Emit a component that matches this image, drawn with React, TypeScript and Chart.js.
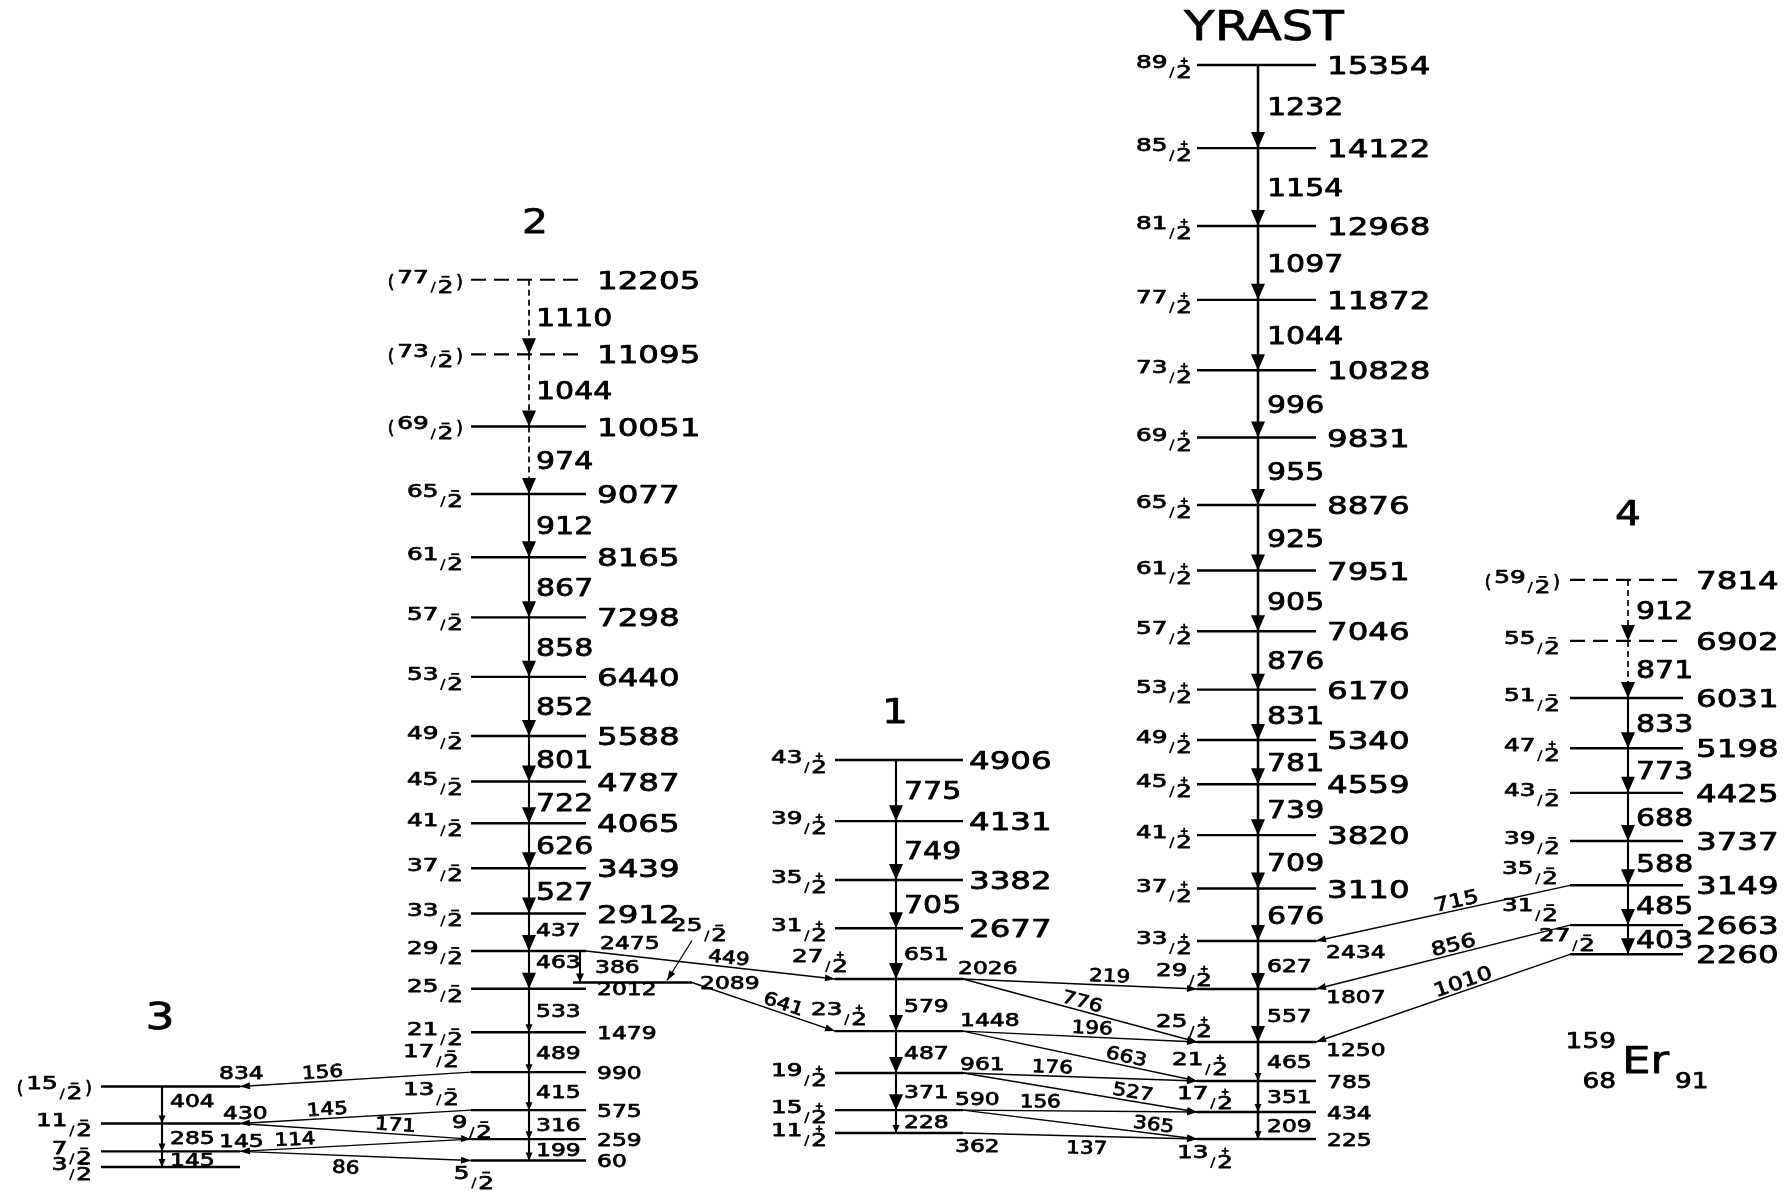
import React, { useEffect, useRef } from 'react';
import { Chart, registerables, LinearScale } from 'chart.js';

Chart.register(...registerables);

// ---------------- DATA (energies in keV, spins as 2J) ----------------
const YRAST_ENERGY = [225, 434, 785, 1250, 1807, 2434, 3110, 3820, 4559, 5340, 6170, 7046, 7951, 8876, 9831, 10828, 11872, 12968, 14122, 15354];
const YRAST_SPIN = [13, 17, 21, 25, 29, 33, 37, 41, 45, 49, 53, 57, 61, 65, 69, 73, 77, 81, 85, 89];
const YRAST_GAMMA = [209, 351, 465, 557, 627, 676, 709, 739, 781, 831, 876, 905, 925, 955, 996, 1044, 1097, 1154, 1232];

const BAND1_ENERGY = [362, 590, 961, 1448, 2026, 2677, 3382, 4131, 4906];
const BAND1_SPIN = [11, 15, 19, 23, 27, 31, 35, 39, 43];
const BAND1_GAMMA = [228, 371, 487, 579, 651, 705, 749, 775];

const BAND2_ENERGY = [60, 259, 575, 990, 1479, 2012, 2475, 2912, 3439, 4065, 4787, 5588, 6440, 7298, 8165, 9077, 10051, 11095, 12205];
const BAND2_SPIN = [5, 9, 13, 17, 21, 25, 29, 33, 37, 41, 45, 49, 53, 57, 61, 65, 69, 73, 77];
const BAND2_GAMMA = [199, 316, 415, 489, 533, 463, 437, 527, 626, 722, 801, 852, 858, 867, 912, 974, 1044, 1110];

const BAND3_ENERGY = [0, 145, 430, 834];
const BAND3_SPIN = [3, 7, 11, 15];
const BAND3_GAMMA = [145, 285, 404];

const BAND4_ENERGY = [2260, 2663, 3149, 3737, 4425, 5198, 6031, 6902, 7814];
const BAND4_SPIN = [27, 31, 35, 39, 43, 47, 51, 55, 59];
const BAND4_PARITY = ['-', '-', '-', '-', '-', '+', '-', '-', '-'];
const BAND4_GAMMA = [403, 485, 588, 688, 773, 833, 871, 912];

const SIDE_ENERGY = [2089];
const SIDE_SPIN = [25];

const TENTATIVE_SPIN: any = { '2': [69, 73, 77], '3': [15], '4': [59] };
const DASHED_LEVELS: any = { '2': [11095, 12205], '4': [6902, 7814] };
const DASHED_GAMMAS: any = { '2': [974, 1044, 1110], '4': [871, 912] };

// inter-band transitions: [from band, from level, to band, to level, gamma energy]
const LINKS: any[] = [
  ['2', 990, '3', 834, 156],
  ['2', 575, '3', 430, 145],
  ['3', 430, '2', 259, 171],
  ['2', 259, '3', 145, 114],
  ['3', 145, '2', 60, 86],
  ['2', 2475, '2b', 2089, 386],
  ['2', 2475, '1', 2026, 449],
  ['2b', 2089, '1', 1448, 641],
  ['1', 2026, 'Y', 1807, 219],
  ['1', 2026, 'Y', 1250, 776],
  ['1', 1448, 'Y', 1250, 196],
  ['1', 1448, 'Y', 785, 663],
  ['1', 961, 'Y', 785, 176],
  ['1', 961, 'Y', 434, 527],
  ['1', 590, 'Y', 434, 156],
  ['1', 590, 'Y', 225, 365],
  ['1', 362, 'Y', 225, 137],
  ['4', 3149, 'Y', 2434, 715],
  ['4', 2663, 'Y', 1807, 856],
  ['4', 2260, 'Y', 1250, 1010],
];

const NUCLEUS = { A: '159', Z: '68', N: '91', symbol: 'Er' };

// ---------------- LAYOUT / STYLE ----------------
const BAND_DATA: any = {
  Y: { energy: YRAST_ENERGY, spin: YRAST_SPIN, parity: YRAST_ENERGY.map(() => '+'), gamma: YRAST_GAMMA },
  '1': { energy: BAND1_ENERGY, spin: BAND1_SPIN, parity: BAND1_ENERGY.map(() => '+'), gamma: BAND1_GAMMA },
  '2': { energy: BAND2_ENERGY, spin: BAND2_SPIN, parity: BAND2_ENERGY.map(() => '-'), gamma: BAND2_GAMMA },
  '2b': { energy: SIDE_ENERGY, spin: SIDE_SPIN, parity: ['-'], gamma: [] },
  '3': { energy: BAND3_ENERGY, spin: BAND3_SPIN, parity: BAND3_ENERGY.map(() => '-'), gamma: BAND3_GAMMA },
  '4': { energy: BAND4_ENERGY, spin: BAND4_SPIN, parity: BAND4_PARITY, gamma: BAND4_GAMMA },
};

const BAND_LAYOUT: any = {
  Y: { axis: 'yA', x0: 1197, x1: 1316, ax: 1258, spinGap: 5, eGap: 11, gGap: 9, bigE: 3110, bigG: 3110, bigHead: 1807, title: 'YRAST', titleDx: 6, titleDy: -40, titleSize: 41, titleSx: 1.22 },
  '4': { axis: 'yA', x0: 1570, x1: 1683, ax: 1628, spinGap: 10, eGap: 13, gGap: 8, bigE: 0, bigG: 0, bigHead: 0, title: '4', titleDx: 0, titleDy: -67, titleSize: 34, titleSx: 1.2 },
  '2': { axis: 'yB', x0: 471, x1: 586, ax: 529, spinGap: 8, eGap: 11, gGap: 7, bigE: 2912, bigG: 3439, bigHead: 2475, title: '2', titleDx: 6, titleDy: -59, titleSize: 34, titleSx: 1.2 },
  '2b': { axis: 'yB', x0: 573, x1: 692, ax: 580, spinGap: 8, eGap: 8, gGap: 15, bigE: Infinity, bigG: Infinity, bigHead: Infinity },
  '3': { axis: 'yB', x0: 101, x1: 240, ax: 162, spinGap: 9, eGap: -20, gGap: 8, bigE: Infinity, bigG: Infinity, bigHead: Infinity, title: '3', titleDx: -2, titleDy: -71, titleSize: 38, titleSx: 1.2 },
  '1': { axis: 'yC', x0: 835, x1: 963, ax: 896, spinGap: 8, eGap: 6, gGap: 8, bigE: 2677, bigG: 3382, bigHead: 961, title: '1', titleDx: -1, titleDy: -49, titleSize: 34, titleSx: 1.2 },
};

// schematic (non-proportional) energy axes: [energy, shift] break table
const AXIS_RANGE = { min: -1400, max: 16318 };
const AXIS_WARP: any = {
  yA: [[0, -1000], [225, -794], [434, -603], [785, -495], [1250, -381], [1807, -152], [2434, -68], [2700, -60], [3400, 100], [4500, 140], [5300, 10], [6200, -80], [7900, -95], [9800, 0], [16000, 0]],
  yB: [[0, -985], [260, -830], [1000, -565], [2000, -357], [2475, -257], [3439, 5], [4100, 50], [5588, -182], [9000, -85], [11000, -30], [16000, -50]],
  yC: [[0, -1060], [362, -842], [961, -553], [1450, -417], [2026, -223], [2700, -118], [3400, -112], [4906, 143], [16000, 143]],
};

const ENERGY_LABEL_ADJ: any = {
  'Y:2434': [10, 10], 'Y:1807': [10, 7], 'Y:1250': [10, 7],
  '2:2475': [14, -9],
  '1:2026': [-5, -12], '1:1448': [-3, -12], '1:961': [-3, -10], '1:590': [-8, -12], '1:362': [-8, 12],
  '3:834': [-21, -14], '3:430': [-17, -11], '3:145': [-21, -11],
};
const SPIN_LABEL_ADJ: any = {
  'Y:1807': [15, -16], 'Y:1250': [15, -18], 'Y:785': [31, -19], 'Y:434': [36, -16], 'Y:225': [36, 16],
  '2:990': [-12, -18], '2:575': [-12, -18], '2:259': [21, -14], '2:60': [23, 15],
  '1:2026': [13, -20], '1:1448': [32, -19],
  '4:3149': [-12, -14], '4:2663': [-12, -17], '4:2260': [25, -16],
  '2b:2089': [154, -54],
};
const GAMMA_LABEL_ADJ: any = { '2:463': [0, -8], '2:437': [0, -3], '3:404': [0, -5] };
const LINK_LABEL_T = [0.64, 0.62, 0.67, 0.76, 0.46, 0.5, 0.57, 0.62, 0.625, 0.5, 0.55, 0.69, 0.38, 0.72, 0.33, 0.81, 0.53, 0.44, 0.45, 0.41];
const LINK_LABEL_SIDE = [1, 1, 1, 1, -1, 1, 1, 1, 1, 1, 1, 1, 1, 1, 1, 1, -1, 1, 1, 1];
const POINTER_ADJ = { band: '2b', energy: 2089, from: [119, -42], to: [94, -2] };

const FONT = '"DejaVu Sans"';
const TEXT_STROKE = 0.75;

// ---------------- custom schematic scale ----------------
function warpValue(id: string, v: number) {
  const a = AXIS_WARP[id];
  if (!a) return v;
  if (v <= a[0][0]) return v + a[0][1];
  for (let i = 1; i < a.length; i++) {
    if (v <= a[i][0]) {
      const e0 = a[i - 1][0], o0 = a[i - 1][1], e1 = a[i][0], o1 = a[i][1];
      return v + o0 + ((o1 - o0) * (v - e0)) / (e1 - e0);
    }
  }
  return v + a[a.length - 1][1];
}

class WarpScale extends (LinearScale as any) {
  static id = 'warp';
  getPixelForValue(value: any, index?: number) {
    if (value === null || value === undefined || !Number.isFinite(value)) return NaN;
    return super.getPixelForValue(warpValue((this as any).id, value), index);
  }
}
Chart.register(WarpScale as any);

// ---------------- drawing helpers ----------------
function paintText(ctx: any, s: string, x: number, y: number) {
  ctx.fillText(s, x, y);
  ctx.lineWidth = TEXT_STROKE;
  ctx.lineJoin = 'round';
  ctx.strokeText(s, x, y);
}
function textC(ctx: any, s: string, x: number, yc: number, size: number, sx: number, align: string, rot = 0) {
  ctx.save();
  ctx.translate(x, yc);
  if (rot) ctx.rotate(rot);
  ctx.scale(sx, 1);
  ctx.font = `${size}px ${FONT}`;
  ctx.textAlign = align;
  ctx.textBaseline = 'alphabetic';
  paintText(ctx, s, 0, (size * 0.729) / 2);
  ctx.restore();
}
function textB(ctx: any, s: string, x: number, yb: number, size: number, sx: number, align: string) {
  ctx.save();
  ctx.translate(x, yb);
  ctx.scale(sx, 1);
  ctx.font = `${size}px ${FONT}`;
  ctx.textAlign = align;
  ctx.textBaseline = 'alphabetic';
  paintText(ctx, s, 0, 0);
  ctx.restore();
}
function head(ctx: any, tx: number, ty: number, dx: number, dy: number, len: number, half: number) {
  const l = Math.hypot(dx, dy) || 1;
  const ux = dx / l, uy = dy / l;
  const bx = tx - ux * len, by = ty - uy * len;
  ctx.beginPath();
  ctx.moveTo(tx, ty);
  ctx.lineTo(bx - uy * half, by + ux * half);
  ctx.lineTo(bx + uy * half, by - ux * half);
  ctx.closePath();
  ctx.fill();
}
function drawSpin(ctx: any, num: number, parity: string, tentative: boolean, xr: number, y: number) {
  const S = 17, SX = 1.45;
  ctx.save();
  ctx.font = `${S}px ${FONT}`;
  const wN = ctx.measureText(String(num)).width * SX;
  const w2 = ctx.measureText('2').width * SX;
  const wP = ctx.measureText('(').width;
  const wS = 5, g = 2;
  const total = wN + g + wS + g + w2 + (tentative ? 2 * (wP + 3) : 0);
  let x = xr - total;
  if (tentative) { textB(ctx, '(', x, y + 8, S, 1, 'left'); x += wP + 3; }
  textB(ctx, String(num), x, y + 3, S, SX, 'left');
  x += wN + g;
  ctx.lineWidth = 1.7;
  ctx.beginPath(); ctx.moveTo(x + 0.5, y + 13); ctx.lineTo(x + wS - 0.5, y + 2); ctx.stroke();
  x += wS + g;
  textB(ctx, '2', x, y + 13, S, SX, 'left');
  const cx = x + w2 / 2;
  ctx.lineWidth = 1.8;
  ctx.beginPath();
  if (parity === '+') {
    ctx.moveTo(cx - 3.5, y - 4); ctx.lineTo(cx + 3.5, y - 4);
    ctx.moveTo(cx, y - 7.5); ctx.lineTo(cx, y - 0.5);
  } else {
    ctx.moveTo(cx - 4, y - 3); ctx.lineTo(cx + 4, y - 3);
  }
  ctx.stroke();
  x += w2;
  if (tentative) textB(ctx, ')', x + 3, y + 8, S, 1, 'left');
  ctx.restore();
}

function levelSegments(b: string, dashed: boolean) {
  const L = BAND_LAYOUT[b], D = BAND_DATA[b];
  const dl = DASHED_LEVELS[b] || [];
  const out: any[] = [];
  D.energy.forEach((e: number) => {
    if (dl.includes(e) === dashed) out.push({ x: L.x0, y: e }, { x: L.x1, y: e }, { x: L.x1, y: null });
  });
  return out;
}
function shaftSegments(b: string, dashed: boolean) {
  const L = BAND_LAYOUT[b], D = BAND_DATA[b];
  const dg = DASHED_GAMMAS[b] || [];
  const out: any[] = [];
  for (let i = 1; i < D.energy.length; i++) {
    const g = D.gamma[i - 1];
    if (dg.includes(g) === dashed) out.push({ x: L.ax, y: D.energy[i] }, { x: L.ax, y: D.energy[i - 1] }, { x: L.ax, y: null });
  }
  return out;
}

const bgPlugin = {
  id: 'bg',
  beforeDraw(chart: any) {
    const { ctx, width, height } = chart;
    ctx.save(); ctx.fillStyle = '#fff'; ctx.fillRect(0, 0, width, height); ctx.restore();
  },
};

const schemePlugin = {
  id: 'scheme',
  afterDatasetsDraw(chart: any) {
    const ctx = chart.ctx;
    const X = (v: number) => chart.scales.x.getPixelForValue(v);
    const Y = (b: string, e: number) => chart.scales[BAND_LAYOUT[b].axis].getPixelForValue(e);
    ctx.save();
    ctx.fillStyle = '#000';
    ctx.strokeStyle = '#000';

    Object.keys(BAND_LAYOUT).forEach((b) => {
      const L = BAND_LAYOUT[b], D = BAND_DATA[b];
      const E = D.energy;
      const x0 = X(L.x0), x1 = X(L.x1), ax = X(L.ax);
      for (let i = 1; i < E.length; i++) {
        const yT = Y(b, E[i - 1]);
        const yU = Y(b, E[i]);
        const bigH = E[i] >= L.bigHead;
        head(ctx, ax, yT, 0, 1, bigH ? 16 : 8, bigH ? 7 : 3.5);
        const g = D.gamma[i - 1];
        const adj = GAMMA_LABEL_ADJ[`${b}:${g}`] || [0, 0];
        const bigG = E[i] >= L.bigG;
        textC(ctx, String(g), ax + L.gGap + adj[0], (yU + yT) / 2 + adj[1], bigG ? 24 : 18, bigG ? 1.25 : 1.3, 'left');
      }
      E.forEach((e: number, i: number) => {
        const y = Y(b, e);
        const key = `${b}:${e}`;
        if (e > 0) {
          const adj = ENERGY_LABEL_ADJ[key] || [L.eGap, 0];
          const big = e >= L.bigE;
          textC(ctx, String(e), x1 + adj[0], y + adj[1], big ? 25 : 18, 1.3, 'left');
        }
        const sadj = SPIN_LABEL_ADJ[key] || [-L.spinGap, 0];
        const tent = (TENTATIVE_SPIN[b] || []).includes(D.spin[i]);
        drawSpin(ctx, D.spin[i], D.parity[i], tent, x0 + sadj[0], y + sadj[1]);
      });
      if (L.title) {
        textC(ctx, L.title, ax + L.titleDx, Y(b, E[E.length - 1]) + L.titleDy, L.titleSize, L.titleSx, 'center');
      }
    });

    LINKS.forEach((lk: any, k: number) => {
      const [fb, fe, tb, te, g] = lk;
      const A = BAND_LAYOUT[fb], B = BAND_LAYOUT[tb];
      const ya = Y(fb, fe), yb = Y(tb, te);
      const vertical = B.x0 < A.x1 && B.x1 > A.x0;
      let xa, xb;
      if (vertical) { xa = xb = X(B.ax); }
      else if (B.x0 + B.x1 < A.x0 + A.x1) { xa = X(A.x0); xb = X(B.x1); }
      else { xa = X(A.x1); xb = X(B.x0); }
      ctx.lineWidth = vertical ? 2 : 1.4;
      ctx.beginPath(); ctx.moveTo(xa, ya); ctx.lineTo(xb, yb); ctx.stroke();
      head(ctx, xb, yb, xb - xa, yb - ya, vertical ? 9 : 10, vertical ? 4 : 3.5);
      if (vertical) {
        textC(ctx, String(g), xb + 15, (ya + yb) / 2, 18, 1.3, 'left');
      } else {
        const t = LINK_LABEL_T[k];
        const side = LINK_LABEL_SIDE[k];
        const px = xa + t * (xb - xa), py = ya + t * (yb - ya);
        const lx = xb > xa ? xb - xa : xa - xb;
        const ly = xb > xa ? yb - ya : ya - yb;
        const ang = Math.atan2(ly, lx);
        const off = side > 0 ? 10 : -11;
        const cx = px + Math.sin(ang) * off;
        const cy = py - Math.cos(ang) * off;
        const big = fb === '4';
        textC(ctx, String(g), cx, cy, big ? 19 : 18, big ? 1.25 : 1.2, 'center', ang);
      }
    });

    // pointer from the 25/2- label to its short level
    {
      const L = BAND_LAYOUT[POINTER_ADJ.band];
      const y = Y(POINTER_ADJ.band, POINTER_ADJ.energy);
      const fx = X(L.x0) + POINTER_ADJ.from[0], fy = y + POINTER_ADJ.from[1];
      const tx = X(L.x0) + POINTER_ADJ.to[0], ty = y + POINTER_ADJ.to[1];
      ctx.lineWidth = 1.3;
      ctx.beginPath(); ctx.moveTo(fx, fy); ctx.lineTo(tx, ty); ctx.stroke();
      head(ctx, tx, ty, tx - fx, ty - fy, 10, 3.5);
    }

    // nucleus label
    textB(ctx, NUCLEUS.symbol, 1622, 1073, 38, 1.19, 'left');
    textB(ctx, NUCLEUS.A, 1616, 1048, 22, 1.2, 'right');
    textB(ctx, NUCLEUS.Z, 1616, 1088, 22, 1.2, 'right');
    textB(ctx, NUCLEUS.N, 1675, 1088, 22, 1.2, 'left');

    ctx.restore();
  },
};

export default function App() {
  const ref = useRef<HTMLCanvasElement | null>(null);
  useEffect(() => {
    document.body.style.margin = '0';
    document.body.style.overflow = 'hidden';
    const canvas = ref.current;
    if (!canvas) return;
    const datasets: any[] = [];
    Object.keys(BAND_LAYOUT).forEach((b) => {
      const L = BAND_LAYOUT[b];
      const common = {
        yAxisID: L.axis, xAxisID: 'x', borderColor: '#000', backgroundColor: '#000',
        pointRadius: 0, pointHoverRadius: 0, fill: false, tension: 0, spanGaps: false, borderCapStyle: 'butt',
      };
      datasets.push({ ...common, label: `band ${b} levels`, data: levelSegments(b, false), borderWidth: 2.4 });
      const dl = levelSegments(b, true);
      if (dl.length) datasets.push({ ...common, label: `band ${b} tentative levels`, data: dl, borderWidth: 2.2, borderDash: [15, 8] });
      const sh = shaftSegments(b, false);
      if (sh.length) datasets.push({ ...common, label: `band ${b} transitions`, data: sh, borderWidth: b === 'Y' ? 2.5 : 2.1 });
      const dsh = shaftSegments(b, true);
      if (dsh.length) datasets.push({ ...common, label: `band ${b} tentative transitions`, data: dsh, borderWidth: 1.7, borderDash: [6, 4] });
    });
    const yScale = () => ({ type: 'warp', axis: 'y', position: 'left', min: AXIS_RANGE.min, max: AXIS_RANGE.max, display: false, bounds: 'data' });
    const chart = new Chart(canvas, {
      type: 'line',
      data: { datasets },
      options: {
        responsive: false,
        maintainAspectRatio: false,
        animation: false,
        devicePixelRatio: 1,
        events: [],
        layout: { padding: 0 },
        plugins: { legend: { display: false }, tooltip: { enabled: false }, title: { display: false } },
        scales: {
          x: { type: 'linear', min: 0, max: 1791, display: false, bounds: 'data' },
          yA: yScale(),
          yB: yScale(),
          yC: yScale(),
        },
      } as any,
      plugins: [bgPlugin, schemePlugin],
    } as any);
    return () => chart.destroy();
  }, []);
  return <canvas ref={ref} width={1791} height={1195} style={{ display: 'block', width: 1791, height: 1195 }} />;
}
